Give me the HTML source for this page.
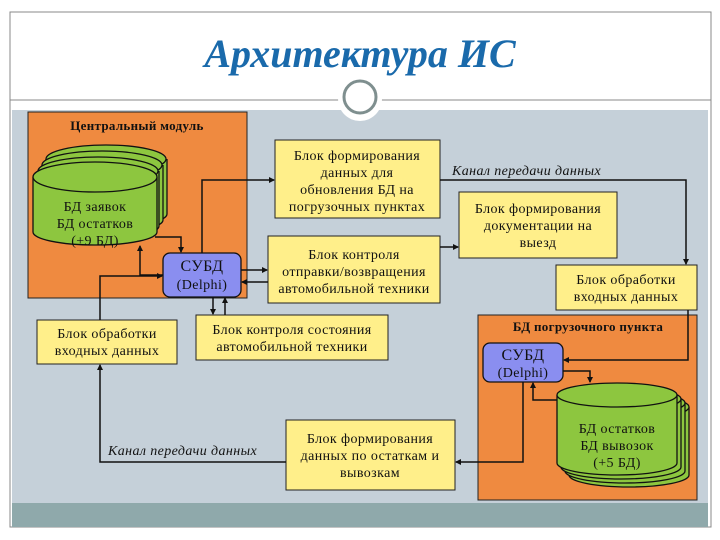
<!DOCTYPE html>
<html><head><meta charset="utf-8"><style>
body{margin:0;width:720px;height:540px;background:#fff;overflow:hidden}
svg{display:block}
text{font-family:"Liberation Serif","Noto Serif CJK SC",serif;font-size:14px;letter-spacing:0.4px;fill:#111}
.b{font-weight:bold;font-size:13px;letter-spacing:0.3px}
</style></head><body>
<svg width="720" height="540" viewBox="0 0 720 540">
<defs><marker id="a" markerWidth="6" markerHeight="6" refX="5" refY="3" orient="auto" markerUnits="userSpaceOnUse"><path d="M0,0 L6,3 L0,6z" fill="#111"/></marker></defs>
<rect x="10" y="12" width="701" height="515" fill="#fff" stroke="#888" stroke-width="1"/>
<rect x="12" y="110" width="696" height="393" fill="#c5d0d9"/>
<rect x="12" y="503" width="696" height="24" fill="#8fa9ab"/>
<line x1="10" y1="100" x2="711" y2="100" stroke="#888"/>
<circle cx="360" cy="99" r="22" fill="#fff"/>
<circle cx="360" cy="97" r="16" fill="#fff" stroke="#7f8f8f" stroke-width="3"/>
<text x="360" y="67" text-anchor="middle" style="font-size:40px;letter-spacing:0;font-style:italic;font-weight:bold;fill:#1a6aab">Архитектура ИС</text>

<rect x="28" y="112" width="219" height="186" fill="#ef8a40" stroke="#222"/>
<text x="137" y="130" text-anchor="middle" class="b">Центральный модуль</text>
<g fill="#8dc63f" stroke="#111" stroke-width="1.3">
<path d="M46,159 v55 a60,13 0 0 0 121,0 v-55"/><ellipse cx="106" cy="159" rx="60" ry="14"/>
<path d="M42,165 v55 a60,13 0 0 0 121,0 v-55"/><ellipse cx="102" cy="165" rx="60" ry="14"/>
<path d="M38,171 v55 a60,13 0 0 0 121,0 v-55"/><ellipse cx="98" cy="171" rx="60" ry="14"/>
<path d="M33,177 v55 a62,13 0 0 0 124,0 v-55"/><ellipse cx="95" cy="177" rx="62" ry="15"/>
</g>
<text x="95" y="211" text-anchor="middle">БД заявок</text>
<text x="95" y="228" text-anchor="middle">БД остатков</text>
<text x="95" y="245" text-anchor="middle">(+9 БД)</text>
<rect x="163" y="253" width="78" height="44" rx="7" fill="#8a8ef0" stroke="#111" stroke-width="1.3"/>
<text x="202" y="271" text-anchor="middle" style="font-size:16px">СУБД</text>
<text x="202" y="289" text-anchor="middle">(Delphi)</text>

<g fill="#ffef8a" stroke="#222">
<rect x="275" y="140" width="165" height="78"/>
<rect x="268" y="236" width="172" height="67"/>
<rect x="459" y="192" width="158" height="66"/>
<rect x="556" y="265" width="141" height="45"/>
<rect x="37" y="320" width="140" height="44"/>
<rect x="196" y="315" width="192" height="45"/>
<rect x="286" y="420" width="169" height="70"/>
</g>
<g text-anchor="middle">
<text x="357" y="160">Блок формирования</text><text x="357" y="177">данных для</text><text x="357" y="194">обновления БД на</text><text x="357" y="211">погрузочных пунктах</text>
<text x="354" y="259">Блок контроля</text><text x="354" y="276">отправки/возвращения</text><text x="354" y="293">автомобильной техники</text>
<text x="538" y="213">Блок формирования</text><text x="538" y="230">документации на</text><text x="538" y="247">выезд</text>
<text x="626" y="284">Блок обработки</text><text x="626" y="301">входных данных</text>
<text x="107" y="338">Блок обработки</text><text x="107" y="355">входных данных</text>
<text x="292" y="334">Блок контроля состояния</text><text x="292" y="351">автомобильной техники</text>
<text x="370" y="443">Блок формирования</text><text x="370" y="460">данных по остаткам и</text><text x="370" y="477">вывозкам</text>
</g>
<text x="452" y="175" style="font-style:italic">Канал передачи данных</text>
<text x="108" y="455" style="font-style:italic">Канал передачи данных</text>

<rect x="478" y="315" width="219" height="185" fill="#ef8a40" stroke="#222"/>
<text x="588" y="331" text-anchor="middle" class="b">БД погрузочного пункта</text>
<rect x="483" y="343" width="80" height="39" rx="7" fill="#8a8ef0" stroke="#111" stroke-width="1.3"/>
<text x="523" y="360" text-anchor="middle" style="font-size:16px">СУБД</text>
<text x="523" y="377" text-anchor="middle">(Delphi)</text>
<g fill="#8dc63f" stroke="#111" stroke-width="1.3">
<path d="M569,407 v68 a60,12 0 0 0 120,0 v-68"/><ellipse cx="629" cy="407" rx="60" ry="12"/>
<path d="M565,403 v68 a60,12 0 0 0 120,0 v-68"/><ellipse cx="625" cy="403" rx="60" ry="12"/>
<path d="M561,399 v68 a60,12 0 0 0 120,0 v-68"/><ellipse cx="621" cy="399" rx="60" ry="12"/>
<path d="M557,395 v68 a60,12 0 0 0 120,0 v-68"/><ellipse cx="617" cy="395" rx="60" ry="12"/>
</g>
<text x="617" y="433" text-anchor="middle">БД остатков</text>
<text x="617" y="450" text-anchor="middle">БД вывозок</text>
<text x="617" y="467" text-anchor="middle">(+5 БД)</text>

<g fill="none" stroke="#111" stroke-width="1.5">
<path d="M155,237 H181 V252" marker-end="url(#a)"/>
<path d="M163,275 H140 V246" marker-end="url(#a)"/>
<path d="M202,253 V180 H274" marker-end="url(#a)"/>
<path d="M241,270 H267" marker-end="url(#a)"/>
<path d="M268,282 H242" marker-end="url(#a)"/>
<path d="M213,297 V314" marker-end="url(#a)"/>
<path d="M225,315 V298" marker-end="url(#a)"/>
<path d="M100,320 V276 H162" marker-end="url(#a)"/>
<path d="M440,247 H458" marker-end="url(#a)"/>
<path d="M440,180 H686 V264" marker-end="url(#a)"/>
<path d="M688,310 V360 H564" marker-end="url(#a)"/>
<path d="M563,371 H590 V382" marker-end="url(#a)"/>
<path d="M557,400 H533 V383" marker-end="url(#a)"/>
<path d="M523,382 V462 H456" marker-end="url(#a)"/>
<path d="M286,462 H100 V365" marker-end="url(#a)"/>
</g>
</svg>
</body></html>
